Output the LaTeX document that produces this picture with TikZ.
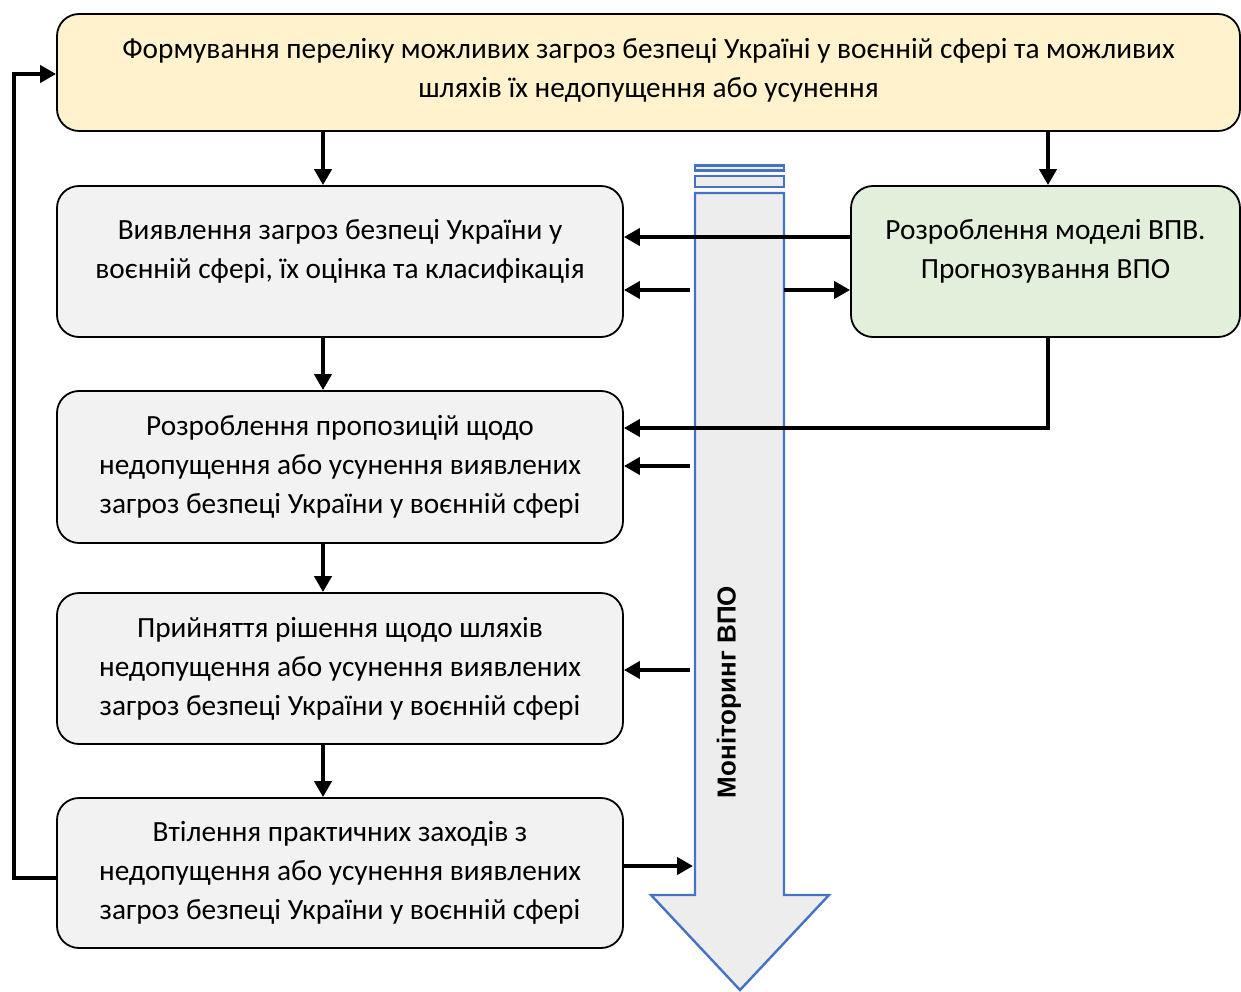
\documentclass[tikz,border=0pt]{standalone}
\usepackage{fontspec}
\setmainfont{Carlito}
\newfontfamily\monfont{Liberation Sans}
\usetikzlibrary{arrows.meta}
\definecolor{topfill}{HTML}{FFF2CC}
\definecolor{grayfill}{HTML}{F2F2F2}
\definecolor{greenfill}{HTML}{E2EFDA}
\definecolor{arrfill}{HTML}{EDEDED}
\definecolor{arrline}{HTML}{4472C4}
\tikzset{
  boxfont/.style={font=\fontsize{29.3}{39}\selectfont, align=center},
  box/.style={draw=black, line width=1.8pt, rounded corners=22pt, boxfont,
    inner sep=0pt},
  conn/.style={line width=4.2pt, -{Triangle[length=16pt,width=17pt]}},
}
\begin{document}
\begin{tikzpicture}[x=1pt,y=-1pt]
\useasboundingbox (0,0) rectangle (1241,992);
% boxes
\node[box, fill=topfill, minimum width=1183pt, minimum height=117pt,
  label={[name=topt, boxfont, yshift=2.5pt]center:Формування переліку можливих загроз безпеці Україні у воєнній сфері та можливих\\шляхів їх недопущення або усунення}] (top) at (648.5,72.5) {};
\node[box, fill=grayfill, minimum width=566pt, minimum height=151pt,
  label={[name=b2t, boxfont, yshift=10pt]center:Виявлення загроз безпеці України у\\воєнній сфері, їх оцінка та класифікація}] (b2) at (340,261.5) {};
\node[box, fill=greenfill, minimum width=389pt, minimum height=151pt,
  label={[name=gt, boxfont, yshift=10pt]center:Розроблення моделі ВПВ.\\Прогнозування ВПО}] (g) at (1045.5,261.5) {};
\node[box, fill=grayfill, minimum width=566pt, minimum height=152pt] (b3) at (340,467)
  {Розроблення пропозицій щодо\\недопущення або усунення виявлених\\загроз безпеці України у воєнній сфері};
\node[box, fill=grayfill, minimum width=566pt, minimum height=151pt] (b4) at (340,668.5)
  {Прийняття рішення щодо шляхів\\недопущення або усунення виявлених\\загроз безпеці України у воєнній сфері};
\node[box, fill=grayfill, minimum width=566pt, minimum height=150pt] (b5) at (340,873)
  {Втілення практичних заходів з\\недопущення або усунення виявлених\\загроз безпеці України у воєнній сфері};
% big monitoring arrow
\draw[arrline, fill=arrfill, line width=2.4pt] (695,165.5) rectangle (784,170.5);
\draw[arrline, fill=arrfill, line width=2.4pt] (695,176) rectangle (784,187);
\draw[arrline, fill=arrfill, line width=2.4pt, line join=miter]
  (695,193) -- (784,193) -- (784,895) -- (829,895) -- (740,990) -- (651,895) -- (695,895) -- cycle;
\node[rotate=90, font=\monfont\bfseries\fontsize{26}{30}\selectfont] (mon) at (729,692) {Моніторинг ВПО};
% coordinates on the shaft
\coordinate (s2l) at (690,290);
\coordinate (s2r) at (784,290);
\coordinate (s3) at (690,466);
\coordinate (s4) at (690,670);
\coordinate (s5) at (693,866);
\coordinate (fbA) at (14,878);
\coordinate (fbB) at (14,74);
% connectors
\draw[conn] (top.south -| b2) ++(-17,0) coordinate (t1) -- (t1 |- b2.north);
\draw[conn] (top.south -| g) ++(2.5,0) coordinate (t2) -- (t2 |- g.north);
\draw[conn] (g.west |- 0,237) -- (b2.east |- 0,237);
\draw[conn] (s2l) -- (s2l -| b2.east);
\draw[conn] (s2r) -- (s2r -| g.west);
\draw[conn] (b2.south -| t1) -- (t1 |- b3.north);
\draw[conn] (g.south -| t2) |- (b3.east |- 0,428);
\draw[conn] (s3) -- (s3 -| b3.east);
\draw[conn] (b3.south -| t1) -- (t1 |- b4.north);
\draw[conn] (s4) -- (s4 -| b4.east);
\draw[conn] (b4.south -| t1) -- (t1 |- b5.north);
\draw[conn] (b5.east |- s5) -- (s5);
\draw[conn, line join=miter] (b5.west |- fbA) -- (fbA) -- (fbB) -- (fbB -| top.west);
\end{tikzpicture}
\end{document}
